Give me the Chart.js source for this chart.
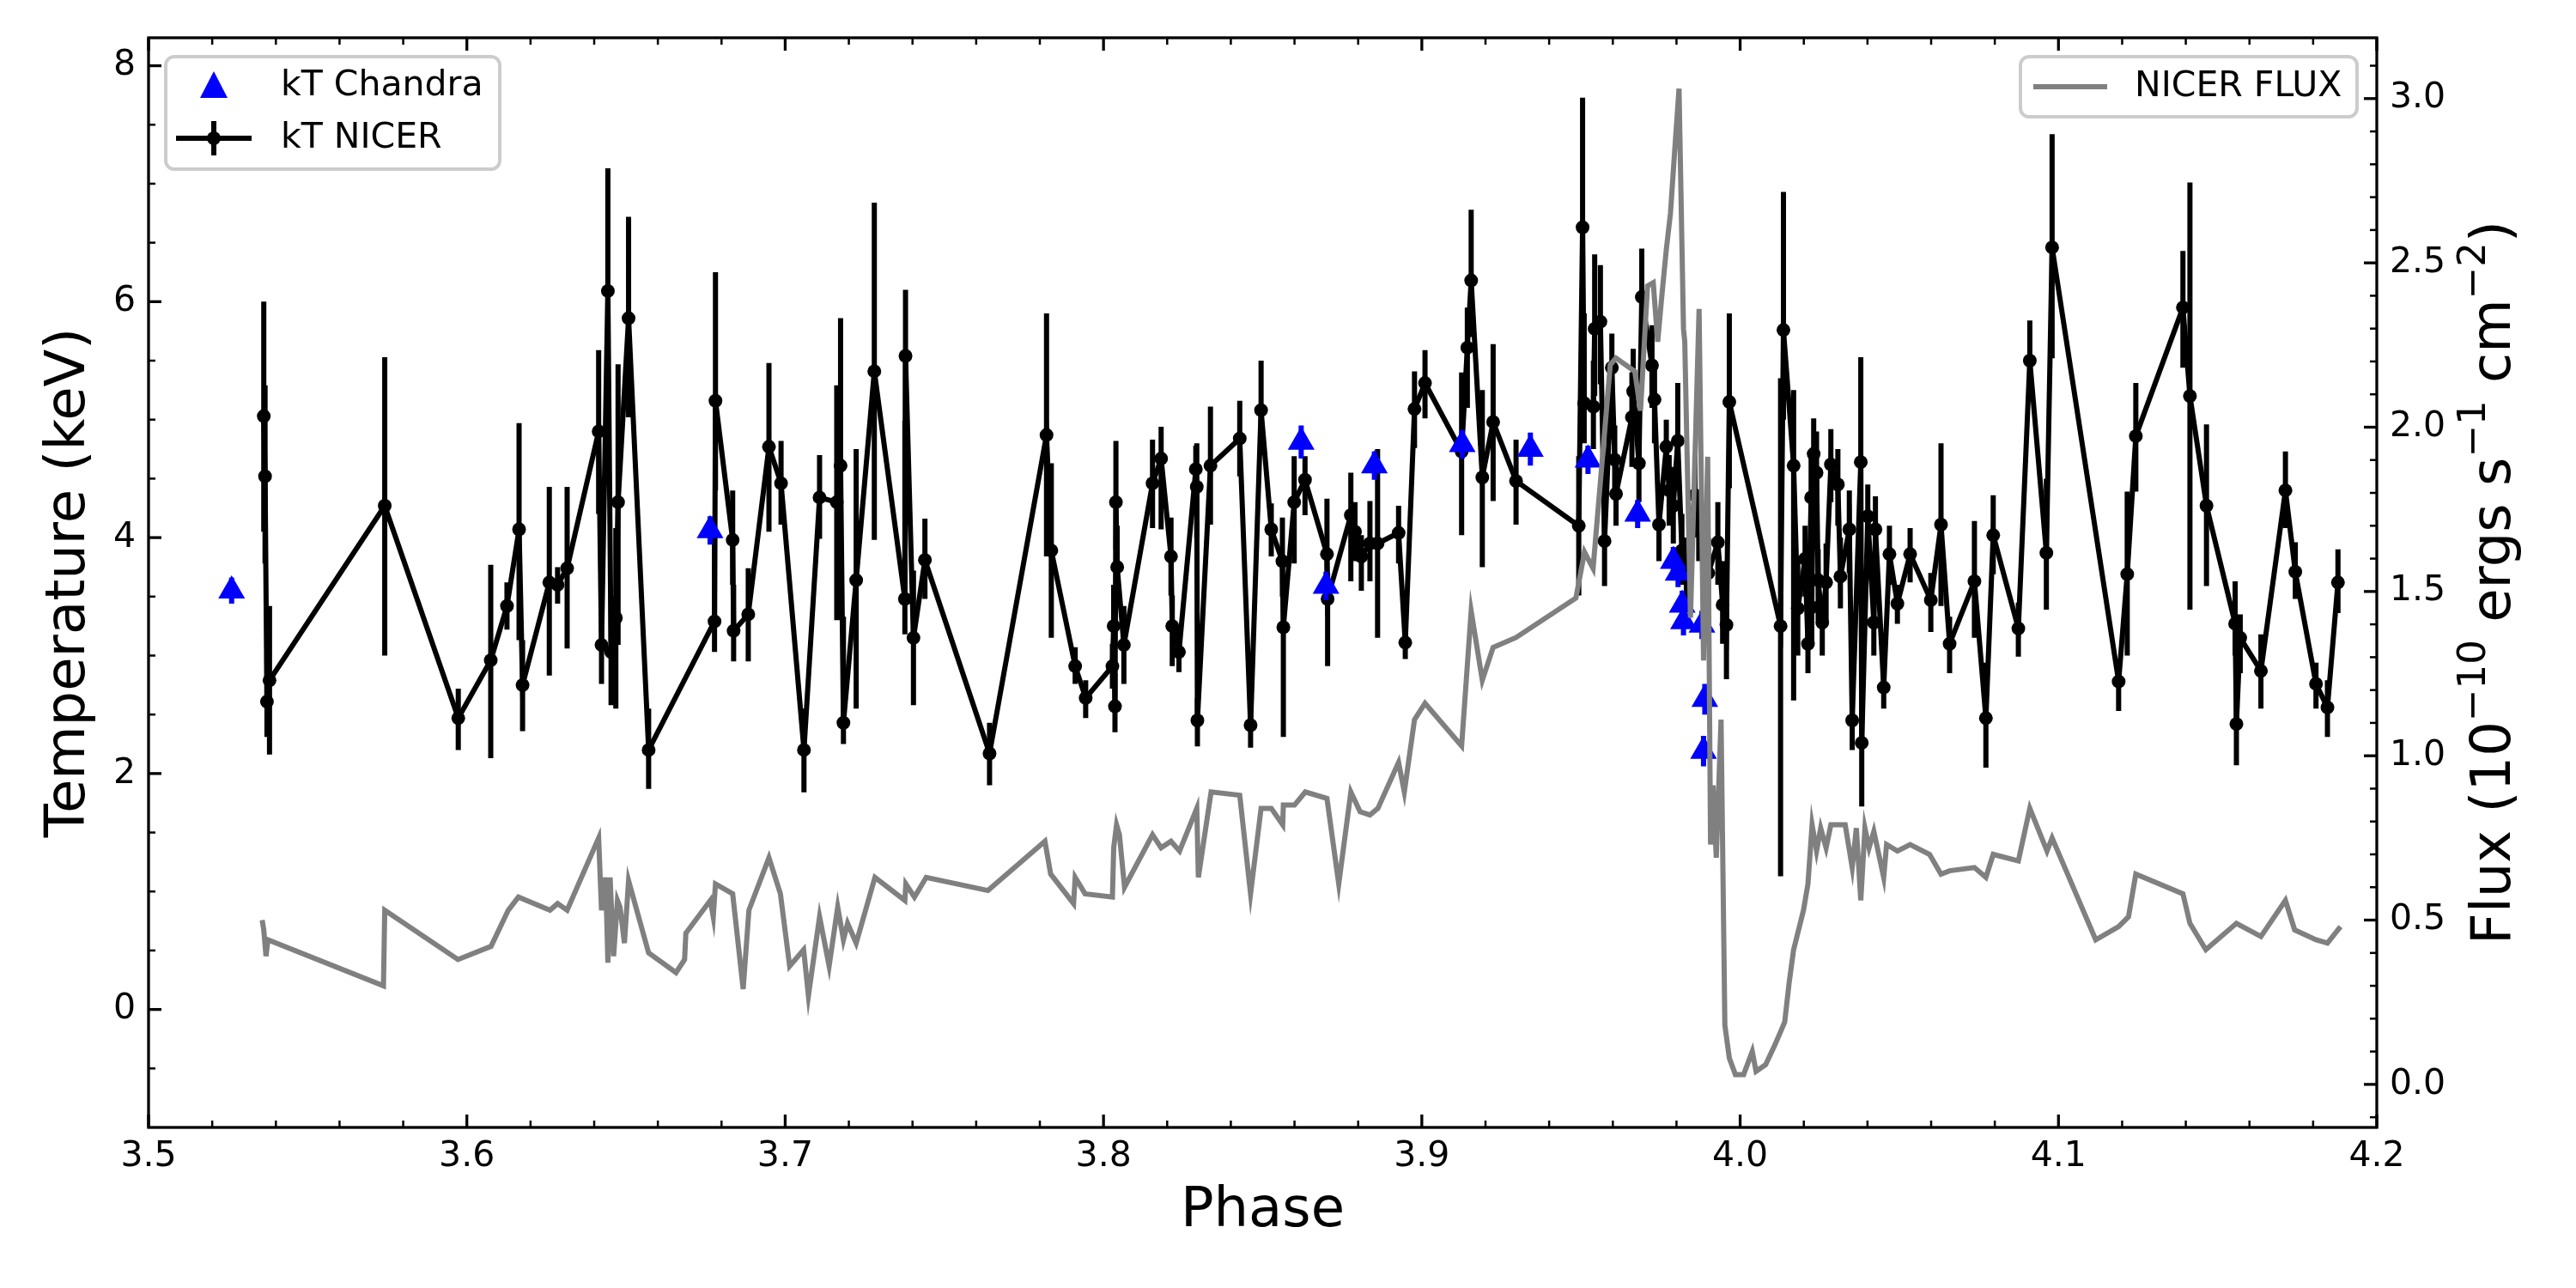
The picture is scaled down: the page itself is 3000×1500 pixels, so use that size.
<!DOCTYPE html>
<html>
<head>
<meta charset="utf-8">
<script src="https://cdn.jsdelivr.net/npm/chart.js@4.4.1/dist/chart.umd.min.js"></script>
<style>
  html, body { margin: 0; padding: 0; background: #fff; }
  canvas { display: block; }
</style>
</head>
<body>
<canvas id="phaseChart" width="3000" height="1500"></canvas>
<script>
// tick labels
const phaseTicks = [3.5, 3.6, 3.7, 3.8, 3.9, 4.0, 4.1, 4.2];
const kTTicks = [0, 2, 4, 6, 8];
const fluxTicks = [0.0, 0.5, 1.0, 1.5, 2.0, 2.5, 3.0];

// kT NICER (keV) with lower / upper error bounds
const nicerPhase = [
  3.5362, 3.5366, 3.5372, 3.5380, 3.5742, 3.5973, 3.6075, 3.6126, 3.6164, 3.6175,
  3.6259, 3.6285, 3.6315, 3.6414, 3.6423, 3.6443, 3.6453, 3.6468, 3.6475, 3.6508,
  3.6571, 3.6778, 3.6781, 3.6835, 3.6838, 3.6884, 3.6949, 3.6987, 3.7059, 3.7108,
  3.7162, 3.7174, 3.7183, 3.7223, 3.7280, 3.7376, 3.7378, 3.7403, 3.7439, 3.7642,
  3.7821, 3.7836, 3.7911, 3.7944, 3.8028, 3.8032, 3.8036, 3.8039, 3.8043, 3.8064,
  3.8154, 3.8181, 3.8212, 3.8216, 3.8237, 3.8290, 3.8293, 3.8295, 3.8336, 3.8428,
  3.8462, 3.8495, 3.8527, 3.8562, 3.8565, 3.8599, 3.8633, 3.8702, 3.8704, 3.8777,
  3.8790, 3.8810, 3.8837, 3.8861, 3.8927, 3.8948, 3.8977, 3.9010, 3.9125, 3.9143,
  3.9155, 3.9190, 3.9224, 3.9296, 3.9493, 3.9505, 3.9510, 3.9539, 3.9543, 3.9561,
  3.9574, 3.9597, 3.9606, 3.9610, 3.9660, 3.9664, 3.9682, 3.9691, 3.9723, 3.9731,
  3.9745, 3.9768, 3.9777, 3.9790, 3.9804, 3.9817, 3.9831, 3.9858, 3.9870, 3.9900,
  3.9930, 3.9945, 3.9957, 3.9966, 4.0127, 4.0136, 4.0168, 4.0181, 4.0204, 4.0213,
  4.0223, 4.0225, 4.0231, 4.0240, 4.0245, 4.0258, 4.0270, 4.0285, 4.0307, 4.0315,
  4.0343, 4.0352, 4.0379, 4.0382, 4.0401, 4.0420, 4.0425, 4.0451, 4.0469, 4.0494,
  4.0534, 4.0599, 4.0631, 4.0658, 4.0736, 4.0772, 4.0795, 4.0874, 4.0910, 4.0962,
  4.0980, 4.1189, 4.1216, 4.1243, 4.1391, 4.1413, 4.1465, 4.1555, 4.1559, 4.1571,
  4.1636, 4.1713, 4.1744, 4.1809, 4.1845, 4.1878
];
const nicerKT = [
  5.03, 4.52, 2.61, 2.79, 4.27, 2.47, 2.96, 3.42, 4.07, 2.75,
  3.62, 3.60, 3.74, 4.90, 3.09, 6.09, 3.03, 3.32, 4.30, 5.86,
  2.20, 3.29, 5.16, 3.98, 3.21, 3.35, 4.77, 4.46, 2.20, 4.34,
  4.30, 4.61, 2.43, 3.64, 5.41, 3.48, 5.54, 3.15, 3.81, 2.17,
  4.87, 3.89, 2.91, 2.64, 2.91, 3.25, 2.57, 4.30, 3.75, 3.09,
  4.46, 4.67, 3.84, 3.25, 3.03, 4.58, 4.43, 2.45, 4.61, 4.84,
  2.41, 5.08, 4.07, 3.80, 3.24, 4.30, 4.49, 3.86, 3.48, 4.19,
  4.05, 3.84, 3.95, 3.95, 4.04, 3.11, 5.09, 5.31, 4.73, 5.61,
  6.18, 4.51, 4.98, 4.48, 4.10, 6.63, 5.14, 5.11, 5.77, 5.83,
  3.97, 5.44, 4.66, 4.37, 5.02, 5.24, 4.63, 6.04, 5.46, 5.17,
  4.11, 4.77, 4.40, 4.27, 4.82, 3.89, 3.72, 4.36, 4.08, 3.70,
  3.96, 3.43, 3.26, 5.15, 3.25, 5.76, 4.61, 3.40, 3.82, 3.10,
  4.34, 3.41, 4.71, 4.55, 3.64, 3.28, 3.62, 4.62, 4.45, 3.67,
  4.07, 2.45, 4.64, 2.26, 4.18, 3.28, 4.07, 2.73, 3.86, 3.44,
  3.86, 3.47, 4.11, 3.10, 3.63, 2.47, 4.02, 3.23, 5.50, 3.87,
  6.46, 2.78, 3.69, 4.86, 5.95, 5.20, 4.27, 3.27, 2.42, 3.15,
  2.87, 4.40, 3.71, 2.76, 2.56, 3.62
];
const nicerLow = [
  4.05, 3.78, 2.31, 2.16, 3.00, 2.20, 2.13, 3.22, 3.13, 2.36,
  2.83, 3.44, 3.06, 4.20, 2.76, 5.00, 2.58, 2.55, 3.09, 5.02,
  1.87, 3.03, 4.40, 3.60, 2.95, 2.95, 4.05, 4.11, 1.84, 3.99,
  3.30, 3.30, 2.25, 2.55, 3.98, 3.18, 4.99, 2.58, 3.48, 1.90,
  3.84, 3.15, 2.76, 2.47, 2.72, 2.95, 2.35, 3.90, 3.45, 2.76,
  4.08, 4.07, 3.51, 2.91, 2.86, 4.35, 4.00, 2.23, 4.11, 4.52,
  2.22, 4.70, 3.84, 3.50, 2.31, 3.78, 4.19, 3.60, 2.91, 3.63,
  3.80, 3.55, 3.63, 3.15, 3.78, 2.97, 4.76, 5.01, 4.02, 5.10,
  5.70, 3.75, 4.31, 4.11, 3.51, 5.50, 4.80, 4.75, 5.20, 5.30,
  3.59, 5.10, 4.40, 4.10, 4.60, 4.90, 4.30, 5.50, 5.10, 4.80,
  3.80, 4.50, 4.10, 3.95, 4.50, 3.60, 3.45, 4.00, 3.80, 3.40,
  3.60, 3.10, 2.80, 4.42, 1.13, 5.00, 2.62, 3.00, 3.50, 2.85,
  4.00, 3.10, 4.40, 4.20, 3.30, 3.00, 3.30, 4.30, 4.10, 3.40,
  3.70, 2.20, 3.80, 1.72, 3.90, 3.00, 3.75, 2.55, 3.60, 3.27,
  3.62, 3.20, 3.42, 2.85, 3.15, 2.05, 3.69, 2.99, 5.20, 3.39,
  5.52, 2.53, 3.00, 4.39, 5.44, 3.39, 3.59, 3.00, 2.07, 2.85,
  2.55, 4.08, 3.48, 2.55, 2.31, 3.36
];
const nicerHigh = [
  6.00, 5.29, 3.00, 3.42, 5.53, 2.72, 3.77, 3.62, 4.97, 3.13,
  4.43, 3.75, 4.43, 5.59, 4.20, 7.13, 3.50, 4.08, 5.47, 6.72,
  2.55, 4.00, 6.25, 4.40, 3.60, 3.74, 5.48, 4.82, 2.55, 4.70,
  5.29, 5.86, 3.33, 4.75, 6.84, 4.99, 6.10, 3.72, 4.16, 2.43,
  5.90, 4.63, 3.07, 2.79, 3.10, 3.60, 2.85, 4.82, 4.10, 3.42,
  4.83, 4.94, 4.17, 3.51, 3.24, 4.78, 4.80, 2.64, 5.11, 5.16,
  2.60, 5.50, 4.29, 4.17, 3.60, 4.69, 4.69, 4.33, 3.70, 4.55,
  4.30, 4.02, 4.31, 4.75, 4.27, 3.21, 5.41, 5.59, 5.40, 5.95,
  6.78, 5.25, 5.64, 4.83, 4.69, 7.73, 5.90, 5.50, 6.40, 6.31,
  4.33, 5.73, 4.95, 4.65, 5.40, 5.60, 4.95, 6.45, 5.80, 5.50,
  4.40, 5.00, 4.70, 4.60, 5.31, 4.20, 4.00, 4.70, 4.40, 4.00,
  4.30, 3.80, 3.60, 5.90, 5.35, 6.93, 5.25, 3.80, 4.10, 3.42,
  4.70, 3.70, 5.01, 4.90, 3.90, 3.50, 3.95, 4.92, 4.75, 4.00,
  4.40, 2.70, 5.53, 2.80, 4.45, 3.55, 4.35, 2.95, 4.10, 3.60,
  4.08, 3.70, 4.80, 3.33, 4.14, 2.94, 4.36, 3.45, 5.84, 4.50,
  7.42, 2.94, 4.39, 5.31, 6.43, 7.01, 4.96, 3.63, 2.82, 3.35,
  3.18, 4.73, 3.96, 2.94, 2.79, 3.90
];

// kT Chandra (keV)
const chandraPhase = [3.5261, 3.6764, 3.8621, 3.8699, 3.8851, 3.9127, 3.9341, 3.9522,
  3.9678, 3.9790, 3.9805, 3.9818, 3.9822, 3.9880, 3.9889, 3.9885];
const chandraKT = [3.55, 4.06, 4.81, 3.59, 4.61, 4.79, 4.75, 4.66,
  4.20, 3.80, 3.70, 3.43, 3.29, 3.26, 2.63, 2.19];
const chandraLow = [3.44, 3.94, 4.67, 3.47, 4.49, 4.67, 4.61, 4.54,
  4.08, 3.68, 3.58, 3.31, 3.17, 3.14, 2.50, 2.06];
const chandraHigh = [3.66, 4.18, 4.95, 3.71, 4.73, 4.91, 4.89, 4.78,
  4.32, 3.92, 3.82, 3.55, 3.41, 3.38, 2.76, 2.32];

// NICER flux (1e-10 ergs/s/cm2)
const fluxPhase = [
  3.5357, 3.5362, 3.5369, 3.5375, 3.5738, 3.5742, 3.5972, 3.6076, 3.6130, 3.6162,
  3.6261, 3.6285, 3.6315, 3.6414, 3.6423, 3.6436, 3.6443, 3.6450, 3.6461, 3.6473,
  3.6481, 3.6495, 3.6508, 3.6571, 3.6657, 3.6684, 3.6688, 3.6765, 3.6774, 3.6781,
  3.6835, 3.6868, 3.6886, 3.6949, 3.6985, 3.7014, 3.7058, 3.7073, 3.7108, 3.7138,
  3.7165, 3.7183, 3.7196, 3.7223, 3.7282, 3.7376, 3.7379, 3.7406, 3.7443, 3.7637,
  3.7816, 3.7834, 3.7906, 3.7911, 3.7942, 3.8028, 3.8032, 3.8041, 3.8050, 3.8066,
  3.8154, 3.8181, 3.8212, 3.8239, 3.8293, 3.8298, 3.8338, 3.8428, 3.8462, 3.8495,
  3.8527, 3.8563, 3.8565, 3.8600, 3.8634, 3.8702, 3.8739, 3.8777, 3.8806, 3.8837,
  3.8862, 3.8927, 3.8945, 3.8977, 3.9010, 3.9125, 3.9155, 3.9190, 3.9224, 3.9296,
  3.9484, 3.9511, 3.9538, 3.9565, 3.9592, 3.9610, 3.9669, 3.9678, 3.9687, 3.9709,
  3.9727, 3.9741, 3.9754, 3.9768, 3.9781, 3.9795, 3.9808, 3.9822, 3.9826, 3.9844,
  3.9871, 3.9885, 3.9898, 3.9907, 3.9915, 3.9925, 3.9940, 3.9952, 3.9966, 3.9985,
  4.0011, 4.0038, 4.0050, 4.0080, 4.0109, 4.0127, 4.0140, 4.0154, 4.0168, 4.0199,
  4.0213, 4.0226, 4.0240, 4.0253, 4.0270, 4.0285, 4.0307, 4.0330, 4.0352, 4.0365,
  4.0379, 4.0392, 4.0405, 4.0420, 4.0451, 4.0460, 4.0494, 4.0534, 4.0595, 4.0631,
  4.0658, 4.0736, 4.0772, 4.0795, 4.0874, 4.0910, 4.0964, 4.0980, 4.1117, 4.1189,
  4.1220, 4.1243, 4.1391, 4.1413, 4.1463, 4.1559, 4.1636, 4.1713, 4.1742, 4.1809,
  4.1845, 4.1886
];
const fluxValue = [
  0.50, 0.47, 0.39, 0.44, 0.30, 0.53, 0.38, 0.42, 0.53, 0.57,
  0.53, 0.55, 0.53, 0.75, 0.53, 0.63, 0.37, 0.63, 0.39, 0.56,
  0.54, 0.43, 0.62, 0.40, 0.34, 0.38, 0.46, 0.56, 0.51, 0.61,
  0.58, 0.29, 0.53, 0.69, 0.58, 0.36, 0.41, 0.27, 0.51, 0.36,
  0.54, 0.44, 0.49, 0.43, 0.63, 0.56, 0.61, 0.57, 0.63, 0.59,
  0.74, 0.64, 0.55, 0.63, 0.58, 0.57, 0.72, 0.79, 0.76, 0.60,
  0.76, 0.72, 0.74, 0.71, 0.84, 0.63, 0.89, 0.88, 0.58, 0.84,
  0.84, 0.79, 0.85, 0.85, 0.89, 0.87, 0.61, 0.89, 0.83, 0.82,
  0.84, 0.98, 0.89, 1.11, 1.16, 1.03, 1.44, 1.23, 1.33, 1.36,
  1.48, 1.62, 1.57, 1.88, 2.19, 2.21, 2.17, 2.11, 2.05, 2.43,
  2.44, 2.26, 2.40, 2.54, 2.65, 2.85, 3.03, 2.30, 2.26, 1.42,
  2.36, 1.29, 1.91, 0.73, 0.91, 0.69, 1.11, 0.18, 0.08, 0.03,
  0.03, 0.10, 0.04, 0.06, 0.12, 0.16, 0.19, 0.31, 0.41, 0.53,
  0.61, 0.79, 0.71, 0.78, 0.72, 0.79, 0.79, 0.79, 0.66, 0.78,
  0.56, 0.78, 0.72, 0.77, 0.63, 0.73, 0.71, 0.73, 0.70, 0.64,
  0.65, 0.66, 0.63, 0.70, 0.68, 0.84, 0.71, 0.75, 0.44, 0.48,
  0.51, 0.64, 0.58, 0.49, 0.41, 0.49, 0.45, 0.56, 0.47, 0.44,
  0.43, 0.48
];

const FONT = "'DejaVu Sans', sans-serif";
const points = (xs, ys) => xs.map((x, i) => ({ x: x, y: ys[i] }));

// error bars drawn under each dataset that carries errLow / errHigh
const errorBars = {
  id: "errorBars",
  beforeDatasetDraw(chart, args) {
    const ds = chart.data.datasets[args.index];
    if (!ds.errLow) return;
    const { ctx, chartArea } = chart;
    const xs = chart.scales.x;
    const ys = chart.scales[ds.yAxisID];
    ctx.save();
    ctx.beginPath();
    ctx.rect(chartArea.left, chartArea.top, chartArea.width, chartArea.height);
    ctx.clip();
    ctx.strokeStyle = ds.errColor;
    ctx.lineWidth = 6;
    ctx.beginPath();
    ds.data.forEach((p, i) => {
      const px = xs.getPixelForValue(p.x);
      ctx.moveTo(px, ys.getPixelForValue(ds.errLow[i]));
      ctx.lineTo(px, ys.getPixelForValue(ds.errHigh[i]));
    });
    ctx.stroke();
    ctx.restore();
  }
};

// label with raised exponents, drawn rotated so it reads bottom to top
function drawFluxTitle(ctx, cx, cy) {
  const parts = [
    ["Flux (10", false], ["\u221210", true], [" ergs s", false],
    ["\u22121", true], [" cm", false], ["\u22122", true], [")", false]
  ];
  const big = "64px " + FONT;
  const small = "45px " + FONT;
  let total = 0;
  parts.forEach(([t, sup]) => {
    ctx.font = sup ? small : big;
    total += ctx.measureText(t).width;
  });
  ctx.save();
  ctx.translate(cx, cy);
  ctx.rotate(-Math.PI / 2);
  ctx.textAlign = "left";
  ctx.textBaseline = "middle";
  ctx.fillStyle = "#000";
  let x = -total / 2;
  parts.forEach(([t, sup]) => {
    ctx.font = sup ? small : big;
    ctx.fillText(t, x, sup ? -24 : 0);
    x += ctx.measureText(t).width;
  });
  ctx.restore();
}

// matplotlib style frame: spines, inward ticks, legends, right title
const frame = {
  id: "frame",
  afterDraw(chart) {
    const { ctx, chartArea: a, scales } = chart;
    ctx.save();
    ctx.strokeStyle = "#000";

    const seg = (x1, y1, x2, y2, w) => {
      ctx.lineWidth = w;
      ctx.beginPath();
      ctx.moveTo(x1, y1);
      ctx.lineTo(x2, y2);
      ctx.stroke();
    };

    for (let i = 0; i <= 35; i++) {
      const px = scales.x.getPixelForValue(3.5 + i * 0.02);
      const major = i % 5 === 0;
      const len = major ? 15 : 8;
      const w = major ? 3.3 : 2.5;
      seg(px, a.bottom, px, a.bottom - len, w);
      seg(px, a.top, px, a.top + len, w);
    }
    for (let i = 1; i <= 18; i++) {
      const py = scales.y.getPixelForValue(-1 + i * 0.5);
      const major = i % 4 === 2;
      seg(a.left, py, a.left + (major ? 15 : 8), py, major ? 3.3 : 2.5);
    }
    for (let i = -1; i <= 31; i++) {
      const py = scales.y2.getPixelForValue(i * 0.1);
      const major = (i + 10) % 5 === 0;
      seg(a.right, py, a.right - (major ? 15 : 8), py, major ? 3.3 : 2.5);
    }
    ctx.lineWidth = 3.3;
    ctx.strokeRect(a.left, a.top, a.right - a.left, a.bottom - a.top);

    drawFluxTitle(ctx, 2906, (a.top + a.bottom) / 2);

    const box = (x, y, w, h) => {
      ctx.beginPath();
      ctx.roundRect(x, y, w, h, 10);
      ctx.fillStyle = "rgba(255,255,255,0.8)";
      ctx.fill();
      ctx.strokeStyle = "#cccccc";
      ctx.lineWidth = 4;
      ctx.stroke();
    };

    box(193, 66, 389, 131);
    box(2353, 66, 392, 70);

    // kT Chandra entry
    ctx.strokeStyle = "#0000ff";
    seg(249, 88, 249, 112, 6);
    ctx.fillStyle = "#0000ff";
    ctx.beginPath();
    ctx.moveTo(249, 83);
    ctx.lineTo(233, 114);
    ctx.lineTo(265, 114);
    ctx.closePath();
    ctx.fill();

    // kT NICER entry
    ctx.strokeStyle = "#000";
    seg(205, 161, 293, 161, 6);
    seg(249, 141, 249, 181, 6);
    ctx.fillStyle = "#000";
    ctx.beginPath();
    ctx.arc(249, 161, 8, 0, Math.PI * 2);
    ctx.fill();

    // NICER FLUX entry
    ctx.strokeStyle = "#808080";
    seg(2368, 101, 2454, 101, 6);

    ctx.fillStyle = "#000";
    ctx.font = "41px " + FONT;
    ctx.textAlign = "left";
    ctx.textBaseline = "middle";
    ctx.fillText("kT Chandra", 327, 100);
    ctx.fillText("kT NICER", 327, 161);
    ctx.fillText("NICER FLUX", 2486, 101);
    ctx.restore();
  }
};

const setTicks = values => scale => {
  scale.ticks = values.map(v => ({ value: v }));
};

new Chart(document.getElementById("phaseChart"), {
  type: "line",
  data: {
    datasets: [
      {
        label: "NICER FLUX",
        data: points(fluxPhase, fluxValue),
        yAxisID: "y2",
        borderColor: "#808080",
        borderWidth: 6,
        pointRadius: 0,
        tension: 0,
        order: 0
      },
      {
        label: "kT Chandra",
        data: points(chandraPhase, chandraKT),
        yAxisID: "y",
        showLine: false,
        pointStyle: "triangle",
        pointRadius: 18,
        pointBorderWidth: 0,
        pointBackgroundColor: "#0000ff",
        borderColor: "#0000ff",
        errLow: chandraLow,
        errHigh: chandraHigh,
        errColor: "#0000ff",
        order: 1
      },
      {
        label: "kT NICER",
        data: points(nicerPhase, nicerKT),
        yAxisID: "y",
        borderColor: "#000000",
        borderWidth: 6,
        pointRadius: 8,
        pointBorderWidth: 0,
        pointBackgroundColor: "#000000",
        tension: 0,
        errLow: nicerLow,
        errHigh: nicerHigh,
        errColor: "#000000",
        order: 2
      }
    ]
  },
  options: {
    responsive: false,
    devicePixelRatio: 1,
    animation: false,
    layout: { padding: { top: 44, left: 0, right: 0, bottom: 0 } },
    plugins: {
      legend: { display: false },
      tooltip: { enabled: false }
    },
    scales: {
      x: {
        type: "linear",
        min: 3.5,
        max: 4.2,
        afterBuildTicks: setTicks(phaseTicks),
        afterFit(scale) { scale.height = 187; },
        grid: { display: false, drawTicks: false },
        border: { display: false },
        ticks: {
          color: "#000",
          padding: 10,
          font: { family: FONT, size: 41 },
          callback: v => v.toFixed(1)
        },
        title: {
          display: true,
          text: "Phase",
          color: "#000",
          font: { family: FONT, size: 64 },
          padding: { top: 0, bottom: 50 }
        }
      },
      y: {
        type: "linear",
        position: "left",
        min: -1.0,
        max: 8.237,
        afterBuildTicks: setTicks(kTTicks),
        afterFit(scale) { scale.width = 173; },
        grid: { display: false, drawTicks: false },
        border: { display: false },
        ticks: {
          color: "#000",
          padding: 15,
          font: { family: FONT, size: 41 },
          callback: v => String(v)
        },
        title: {
          display: true,
          text: "Temperature (keV)",
          color: "#000",
          font: { family: FONT, size: 64 },
          padding: { top: 43, bottom: 0 }
        }
      },
      y2: {
        type: "linear",
        position: "right",
        min: -0.131,
        max: 3.185,
        afterBuildTicks: setTicks(fluxTicks),
        afterFit(scale) { scale.width = 232; },
        grid: { display: false, drawTicks: false },
        border: { display: false },
        ticks: {
          color: "#000",
          padding: 15,
          font: { family: FONT, size: 41 },
          callback: v => v.toFixed(1)
        }
      }
    }
  },
  plugins: [errorBars, frame]
});
</script>
</body>
</html>
